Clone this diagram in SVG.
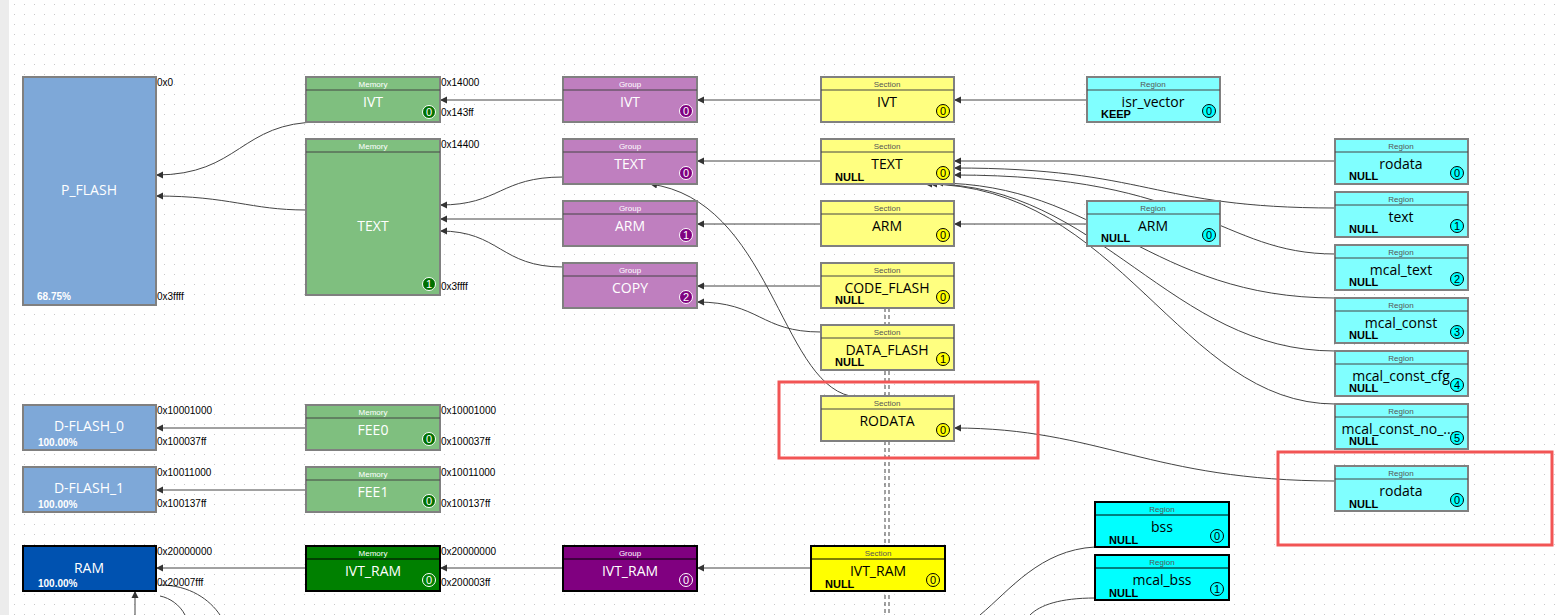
<svg xmlns="http://www.w3.org/2000/svg" width="1555" height="615" viewBox="0 0 1555 615">
<defs>
<pattern id="dots" width="10" height="10" patternUnits="userSpaceOnUse"><rect x="4" y="4" width="1" height="1" fill="#c8c8c8"/></pattern>
<marker id="ah" markerWidth="8" markerHeight="8" refX="7" refY="4" orient="auto" markerUnits="userSpaceOnUse"><path d="M0,0.5 L7,4 L0,7.5 z" fill="#333"/></marker>
<style>
.n rect.b{stroke:#808080;stroke-width:2}
.h{font-family:"Liberation Sans",Arial,sans-serif;font-size:8px;text-anchor:middle}
.t{font-family:"Open Sans","Liberation Sans",sans-serif;font-size:14px;text-anchor:middle}
.a{font-family:"Liberation Sans",Arial,sans-serif;font-size:10px;fill:#000}
.nl{font-family:"Liberation Sans",Arial,sans-serif;font-size:11px;font-weight:bold;fill:#000}
.pc{font-family:"Liberation Sans",Arial,sans-serif;font-size:10px;font-weight:bold;fill:#fff}
.bd{font-family:"Liberation Sans",Arial,sans-serif;font-size:11px;text-anchor:middle}
.c path{fill:none;stroke:#444;stroke-width:1}
.g{fill:#7fbf7f}.p{fill:#bf7fbf}.y{fill:#ffff80}.cy{fill:#80ffff}
</style>
</defs>
<rect width="1555" height="615" fill="#fff"/>
<rect width="1555" height="615" fill="url(#dots)"/>
<rect x="0" y="0" width="9" height="615" fill="#ececec"/>

<g class="c">
<path d="M1087,100 H954" marker-end="url(#ah)"/>
<path d="M821,100 H697" marker-end="url(#ah)"/>
<path d="M563,100 H440" marker-end="url(#ah)"/>
<path d="M320,122 C240,122 240,175 156,175" marker-end="url(#ah)"/>
<path d="M306,210 C250,210 230,196 156,196" marker-end="url(#ah)"/>
<path d="M563,177 C500,177 500,205 440,205" marker-end="url(#ah)"/>
<path d="M563,219 H440" marker-end="url(#ah)"/>
<path d="M563,267 C500,267 500,231 440,231" marker-end="url(#ah)"/>
<path d="M821,161 H697" marker-end="url(#ah)"/>
<path d="M821,224 H697" marker-end="url(#ah)"/>
<path d="M821,286 H697" marker-end="url(#ah)"/>
<path d="M821,332 C760,332 760,302 697,302" marker-end="url(#ah)"/>
<path d="M850,396 C780,380 770,200 650,184" marker-end="url(#ah)"/>
<path d="M1335,161 H954" marker-end="url(#ah)"/>
<path d="M1335,208 C1150,208 1150,168 954,168" marker-end="url(#ah)"/>
<path d="M1087,224 H954" marker-end="url(#ah)"/>
<path d="M1335,254 C1220,254 1200,175 954,175" marker-end="url(#ah)"/>
<path d="M1335,298 C1150,298 1100,183 936,183" marker-end="url(#ah)"/>
<path d="M1335,351 C1170,351 1100,184 930,184" marker-end="url(#ah)"/>
<path d="M1335,404 C1180,404 1120,184 925,184" marker-end="url(#ah)"/>
<path d="M1335,481 C1150,481 1100,428 954,428" marker-end="url(#ah)"/>
<path d="M306,428 H156" marker-end="url(#ah)"/>
<path d="M306,490 H156" marker-end="url(#ah)"/>
<path d="M306,568 H156" marker-end="url(#ah)"/>
<path d="M563,568 H440" marker-end="url(#ah)"/>
<path d="M811,568 H697" marker-end="url(#ah)"/>
<path d="M1095,547 C1040,550 1010,590 980,615"/>
<path d="M1095,598 C1060,598 1040,605 1030,615"/>
<path d="M135,615 V591" marker-end="url(#ah)"/>
<path d="M160,585 C190,585 210,600 220,615"/>
<path d="M160,596 C170,598 180,605 185,615"/>
<path d="M885,308 V615" stroke-dasharray="4,3"/>
<path d="M889,308 V615" stroke-dasharray="4,3"/>
</g>

<g id="P_FLASH" class="n"><rect class="b" x="23" y="77" width="133" height="228" fill="#7ea8d8"/><text class="t" x="89" y="195" fill="#fff">P_FLASH</text><text class="pc" x="37" y="300">68.75%</text><text class="a" x="157" y="86">0x0</text><text class="a" x="157" y="300">0x3ffff</text></g>

<g id="mem_IVT" class="n"><rect class="b g" x="306" y="77" width="134" height="45"/><line x1="306" y1="90" x2="440" y2="90" stroke="#444"/><text class="h" x="373" y="87" fill="#fff">Memory</text><text class="t" x="373" y="107" fill="#fff">IVT</text><circle cx="429" cy="112" r="6.5" fill="#007000" stroke="#fff"/><text class="bd" x="429" y="116" fill="#fff">0</text><text class="a" x="441" y="86">0x14000</text><text class="a" x="441" y="116">0x143ff</text></g>
<g id="mem_TEXT" class="n"><rect class="b g" x="306" y="139" width="134" height="156"/><line x1="306" y1="152" x2="440" y2="152" stroke="#444"/><text class="h" x="373" y="149" fill="#fff">Memory</text><text class="t" x="373" y="231" fill="#fff">TEXT</text><circle cx="429" cy="284" r="6.5" fill="#007000" stroke="#fff"/><text class="bd" x="429" y="288" fill="#fff">1</text><text class="a" x="441" y="148">0x14400</text><text class="a" x="441" y="290">0x3ffff</text></g>

<g id="grp_IVT" class="n"><rect class="b p" x="563" y="77" width="134" height="45"/><line x1="563" y1="90" x2="697" y2="90" stroke="#444"/><text class="h" x="630" y="87" fill="#fff">Group</text><text class="t" x="630" y="107" fill="#fff">IVT</text><circle cx="686" cy="111" r="6.5" fill="#800080" stroke="#fff"/><text class="bd" x="686" y="115" fill="#fff">0</text></g>
<g id="grp_TEXT" class="n"><rect class="b p" x="563" y="139" width="134" height="45"/><line x1="563" y1="152" x2="697" y2="152" stroke="#444"/><text class="h" x="630" y="149" fill="#fff">Group</text><text class="t" x="630" y="169" fill="#fff">TEXT</text><circle cx="686" cy="173" r="6.5" fill="#800080" stroke="#fff"/><text class="bd" x="686" y="177" fill="#fff">0</text></g>
<g id="grp_ARM" class="n"><rect class="b p" x="563" y="201" width="134" height="45"/><line x1="563" y1="214" x2="697" y2="214" stroke="#444"/><text class="h" x="630" y="211" fill="#fff">Group</text><text class="t" x="630" y="231" fill="#fff">ARM</text><circle cx="686" cy="235" r="6.5" fill="#800080" stroke="#fff"/><text class="bd" x="686" y="239" fill="#fff">1</text></g>
<g id="grp_COPY" class="n"><rect class="b p" x="563" y="263" width="134" height="45"/><line x1="563" y1="276" x2="697" y2="276" stroke="#444"/><text class="h" x="630" y="273" fill="#fff">Group</text><text class="t" x="630" y="293" fill="#fff">COPY</text><circle cx="686" cy="297" r="6.5" fill="#800080" stroke="#fff"/><text class="bd" x="686" y="301" fill="#fff">2</text></g>

<g id="sec_IVT" class="n"><rect class="b y" x="821" y="77" width="133" height="45"/><line x1="821" y1="90" x2="954" y2="90" stroke="#444"/><text class="h" x="887" y="87" fill="#555">Section</text><text class="t" x="887" y="107">IVT</text><circle cx="943" cy="111" r="6.5" fill="#ff0" stroke="#000"/><text class="bd" x="943" y="115">0</text></g>
<g id="sec_TEXT" class="n"><rect class="b y" x="821" y="139" width="133" height="45"/><line x1="821" y1="152" x2="954" y2="152" stroke="#444"/><text class="h" x="887" y="149" fill="#555">Section</text><text class="t" x="887" y="169">TEXT</text><text class="nl" x="835" y="181">NULL</text><circle cx="943" cy="173" r="6.5" fill="#ff0" stroke="#000"/><text class="bd" x="943" y="177">0</text></g>
<g id="sec_ARM" class="n"><rect class="b y" x="821" y="201" width="133" height="45"/><line x1="821" y1="214" x2="954" y2="214" stroke="#444"/><text class="h" x="887" y="211" fill="#555">Section</text><text class="t" x="887" y="231">ARM</text><circle cx="943" cy="235" r="6.5" fill="#ff0" stroke="#000"/><text class="bd" x="943" y="239">0</text></g>
<g id="sec_CODE_FLASH" class="n"><rect class="b y" x="821" y="263" width="133" height="45"/><line x1="821" y1="276" x2="954" y2="276" stroke="#444"/><text class="h" x="887" y="273" fill="#555">Section</text><text class="t" x="887" y="293">CODE_FLASH</text><text class="nl" x="835" y="304">NULL</text><circle cx="943" cy="297" r="6.5" fill="#ff0" stroke="#000"/><text class="bd" x="943" y="301">0</text></g>
<g id="sec_DATA_FLASH" class="n"><rect class="b y" x="821" y="325" width="133" height="45"/><line x1="821" y1="338" x2="954" y2="338" stroke="#444"/><text class="h" x="887" y="335" fill="#555">Section</text><text class="t" x="887" y="355">DATA_FLASH</text><text class="nl" x="835" y="366">NULL</text><circle cx="943" cy="359" r="6.5" fill="#ff0" stroke="#000"/><text class="bd" x="943" y="363">1</text></g>
<g id="sec_RODATA" class="n"><rect class="b y" x="821" y="396" width="133" height="45"/><line x1="821" y1="409" x2="954" y2="409" stroke="#444"/><text class="h" x="887" y="406" fill="#555">Section</text><text class="t" x="887" y="426">RODATA</text><circle cx="943" cy="430" r="6.5" fill="#ff0" stroke="#000"/><text class="bd" x="943" y="434">0</text></g>

<g id="reg_isr_vector" class="n"><rect class="b cy" x="1087" y="77" width="133" height="45"/><line x1="1087" y1="90" x2="1220" y2="90" stroke="#444"/><text class="h" x="1153" y="87" fill="#555">Region</text><text class="t" x="1153" y="107">isr_vector</text><text class="nl" x="1101" y="118">KEEP</text><circle cx="1209" cy="111" r="6.5" fill="#0ff" stroke="#000"/><text class="bd" x="1209" y="115">0</text></g>
<g id="reg_ARM" class="n"><rect class="b cy" x="1087" y="201" width="133" height="45"/><line x1="1087" y1="214" x2="1220" y2="214" stroke="#444"/><text class="h" x="1153" y="211" fill="#555">Region</text><text class="t" x="1153" y="231">ARM</text><text class="nl" x="1101" y="242">NULL</text><circle cx="1209" cy="235" r="6.5" fill="#0ff" stroke="#000"/><text class="bd" x="1209" y="239">0</text></g>

<g id="reg_rodata" class="n"><rect class="b cy" x="1335" y="139" width="133" height="45"/><line x1="1335" y1="152" x2="1468" y2="152" stroke="#444"/><text class="h" x="1401" y="149" fill="#555">Region</text><text class="t" x="1401" y="169">rodata</text><text class="nl" x="1349" y="180">NULL</text><circle cx="1457" cy="173" r="6.5" fill="#0ff" stroke="#000"/><text class="bd" x="1457" y="177">0</text></g>
<g id="reg_text" class="n"><rect class="b cy" x="1335" y="192" width="133" height="45"/><line x1="1335" y1="205" x2="1468" y2="205" stroke="#444"/><text class="h" x="1401" y="202" fill="#555">Region</text><text class="t" x="1401" y="222">text</text><text class="nl" x="1349" y="233">NULL</text><circle cx="1457" cy="226" r="6.5" fill="#0ff" stroke="#000"/><text class="bd" x="1457" y="230">1</text></g>
<g id="reg_mcal_text" class="n"><rect class="b cy" x="1335" y="245" width="133" height="45"/><line x1="1335" y1="258" x2="1468" y2="258" stroke="#444"/><text class="h" x="1401" y="255" fill="#555">Region</text><text class="t" x="1401" y="275">mcal_text</text><text class="nl" x="1349" y="286">NULL</text><circle cx="1457" cy="279" r="6.5" fill="#0ff" stroke="#000"/><text class="bd" x="1457" y="283">2</text></g>
<g id="reg_mcal_const" class="n"><rect class="b cy" x="1335" y="298" width="133" height="45"/><line x1="1335" y1="311" x2="1468" y2="311" stroke="#444"/><text class="h" x="1401" y="308" fill="#555">Region</text><text class="t" x="1401" y="328">mcal_const</text><text class="nl" x="1349" y="339">NULL</text><circle cx="1457" cy="332" r="6.5" fill="#0ff" stroke="#000"/><text class="bd" x="1457" y="336">3</text></g>
<g id="reg_mcal_const_cfg" class="n"><rect class="b cy" x="1335" y="351" width="133" height="45"/><line x1="1335" y1="364" x2="1468" y2="364" stroke="#444"/><text class="h" x="1401" y="361" fill="#555">Region</text><text class="t" x="1401" y="381">mcal_const_cfg</text><text class="nl" x="1349" y="392">NULL</text><circle cx="1457" cy="385" r="6.5" fill="#0ff" stroke="#000"/><text class="bd" x="1457" y="389">4</text></g>
<g id="reg_mcal_const_no" class="n"><rect class="b cy" x="1335" y="404" width="133" height="45"/><line x1="1335" y1="417" x2="1468" y2="417" stroke="#444"/><text class="h" x="1401" y="414" fill="#555">Region</text><text class="t" x="1398" y="434">mcal_const_no_...</text><text class="nl" x="1349" y="445">NULL</text><circle cx="1457" cy="438" r="6.5" fill="#0ff" stroke="#000"/><text class="bd" x="1457" y="442">5</text></g>
<g id="reg_rodata2" class="n"><rect class="b cy" x="1335" y="466" width="133" height="45"/><line x1="1335" y1="479" x2="1468" y2="479" stroke="#444"/><text class="h" x="1401" y="476" fill="#555">Region</text><text class="t" x="1401" y="496">rodata</text><text class="nl" x="1349" y="508">NULL</text><circle cx="1457" cy="500" r="6.5" fill="#0ff" stroke="#000"/><text class="bd" x="1457" y="504">0</text></g>

<g id="D-FLASH_0" class="n"><rect class="b" x="23" y="405" width="133" height="45" fill="#7ea8d8"/><text class="t" x="89" y="431" fill="#fff">D-FLASH_0</text><text class="pc" x="38" y="446">100.00%</text><text class="a" x="157" y="414">0x10001000</text><text class="a" x="157" y="445">0x100037ff</text></g>
<g id="FEE0" class="n"><rect class="b g" x="306" y="405" width="134" height="45"/><line x1="306" y1="418" x2="440" y2="418" stroke="#444"/><text class="h" x="373" y="415" fill="#fff">Memory</text><text class="t" x="373" y="435" fill="#fff">FEE0</text><circle cx="429" cy="439" r="6.5" fill="#007000" stroke="#fff"/><text class="bd" x="429" y="443" fill="#fff">0</text><text class="a" x="441" y="414">0x10001000</text><text class="a" x="441" y="445">0x100037ff</text></g>
<g id="D-FLASH_1" class="n"><rect class="b" x="23" y="467" width="133" height="45" fill="#7ea8d8"/><text class="t" x="89" y="493" fill="#fff">D-FLASH_1</text><text class="pc" x="38" y="508">100.00%</text><text class="a" x="157" y="476">0x10011000</text><text class="a" x="157" y="507">0x100137ff</text></g>
<g id="FEE1" class="n"><rect class="b g" x="306" y="467" width="134" height="45"/><line x1="306" y1="480" x2="440" y2="480" stroke="#444"/><text class="h" x="373" y="477" fill="#fff">Memory</text><text class="t" x="373" y="497" fill="#fff">FEE1</text><circle cx="429" cy="501" r="6.5" fill="#007000" stroke="#fff"/><text class="bd" x="429" y="505" fill="#fff">0</text><text class="a" x="441" y="476">0x10011000</text><text class="a" x="441" y="507">0x100137ff</text></g>

<g id="RAM" class="n"><rect x="23" y="546" width="133" height="45" fill="#0052b0" stroke="#000" stroke-width="2"/><text class="t" x="89" y="573" fill="#fff">RAM</text><text class="pc" x="38" y="587">100.00%</text><text class="a" x="157" y="555">0x20000000</text><text class="a" x="157" y="586">0x20007fff</text></g>
<g id="mem_IVT_RAM" class="n"><rect x="306" y="546" width="134" height="45" fill="#008000" stroke="#000" stroke-width="2"/><line x1="306" y1="559" x2="440" y2="559" stroke="#000"/><text class="h" x="373" y="556" fill="#fff">Memory</text><text class="t" x="373" y="576" fill="#fff">IVT_RAM</text><circle cx="429" cy="580" r="6.5" fill="#008000" stroke="#fff"/><text class="bd" x="429" y="584" fill="#fff">0</text><text class="a" x="441" y="555">0x20000000</text><text class="a" x="441" y="586">0x200003ff</text></g>
<g id="grp_IVT_RAM" class="n"><rect x="563" y="546" width="134" height="45" fill="#800080" stroke="#000" stroke-width="2"/><line x1="563" y1="559" x2="697" y2="559" stroke="#000"/><text class="h" x="630" y="556" fill="#fff">Group</text><text class="t" x="630" y="576" fill="#fff">IVT_RAM</text><circle cx="686" cy="580" r="6.5" fill="#800080" stroke="#fff"/><text class="bd" x="686" y="584" fill="#fff">0</text></g>
<g id="sec_IVT_RAM" class="n"><rect x="811" y="546" width="134" height="45" fill="#ffff00" stroke="#000" stroke-width="2"/><line x1="811" y1="559" x2="945" y2="559" stroke="#000"/><text class="h" x="878" y="556" fill="#555">Section</text><text class="t" x="878" y="576">IVT_RAM</text><text class="nl" x="825" y="588">NULL</text><circle cx="933" cy="580" r="6.5" fill="#ff0" stroke="#000"/><text class="bd" x="933" y="584">0</text></g>
<g id="reg_bss" class="n"><rect x="1095" y="502" width="134" height="45" fill="#00ffff" stroke="#000" stroke-width="2"/><line x1="1095" y1="515" x2="1229" y2="515" stroke="#000"/><text class="h" x="1162" y="512" fill="#555">Region</text><text class="t" x="1162" y="532">bss</text><text class="nl" x="1109" y="544">NULL</text><circle cx="1217" cy="536" r="6.5" fill="#0ff" stroke="#000"/><text class="bd" x="1217" y="540">0</text></g>
<g id="reg_mcal_bss" class="n"><rect x="1095" y="555" width="134" height="45" fill="#00ffff" stroke="#000" stroke-width="2"/><line x1="1095" y1="568" x2="1229" y2="568" stroke="#000"/><text class="h" x="1162" y="565" fill="#555">Region</text><text class="t" x="1162" y="585">mcal_bss</text><text class="nl" x="1109" y="597">NULL</text><circle cx="1217" cy="589" r="6.5" fill="#0ff" stroke="#000"/><text class="bd" x="1217" y="593">1</text></g>

<rect x="779" y="382" width="259" height="76" fill="none" stroke="#f25555" stroke-width="3"/>
<rect x="1278" y="452" width="274" height="93" fill="none" stroke="#f25555" stroke-width="3"/>
</svg>
